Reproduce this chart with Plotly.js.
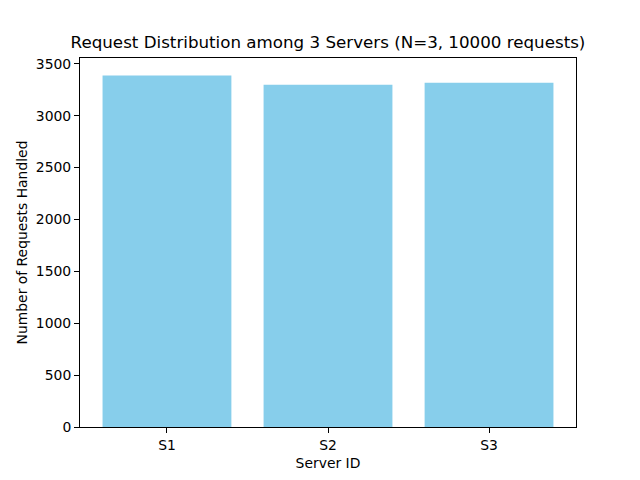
<!DOCTYPE html>
<html>
<head>
<meta charset="utf-8">
<script src="https://cdn.plot.ly/plotly-3.0.1.min.js"></script>
<style>html,body{margin:0;padding:0;background:#fff;}#chart{width:640px;height:480px;}</style>
</head>
<body>
<div id="chart"></div>
<script>
const servers = ["S1", "S2", "S3"];
const requests = [3386, 3297, 3317];
const yTicks = [0, 500, 1000, 1500, 2000, 2500, 3000, 3500];

const font = {family: "DejaVu Sans, sans-serif", color: "#000", size: 13.9};
const axisCommon = {
  showline: true, linecolor: "#000", linewidth: 1, mirror: true,
  ticks: "outside", ticklen: 5, tickwidth: 1, tickcolor: "#000",
  showgrid: false, zeroline: false, tickfont: font
};
Plotly.newPlot("chart", [{
  type: "bar",
  x: servers,
  y: requests,
  width: 0.8,
  marker: {color: "#87CEEB", line: {width: 0}},
  hoverinfo: "none"
}], {
  width: 640, height: 480,
  margin: {l: 80, r: 64, t: 58, b: 53},
  paper_bgcolor: "#fff", plot_bgcolor: "#fff",
  font: font,
  showlegend: false,
  title: {text: "Request Distribution among 3 Servers (N=3, 10000 requests)", font: {family: font.family, size: 16.7, color: "#000"}, x: 0.5125, xanchor: "center", y: 0.912, yanchor: "middle"},
  xaxis: Object.assign({}, axisCommon, {
    type: "category", range: [-0.54, 2.54],
    title: {text: "Server ID", font: font, standoff: 6}
  }),
  yaxis: Object.assign({}, axisCommon, {
    range: [0, 3386 * 1.05], tickvals: yTicks, ticktext: yTicks.map(String),
    title: {text: "Number of Requests Handled", font: font, standoff: 4}
  })
}, {staticPlot: true});
</script>
</body>
</html>
